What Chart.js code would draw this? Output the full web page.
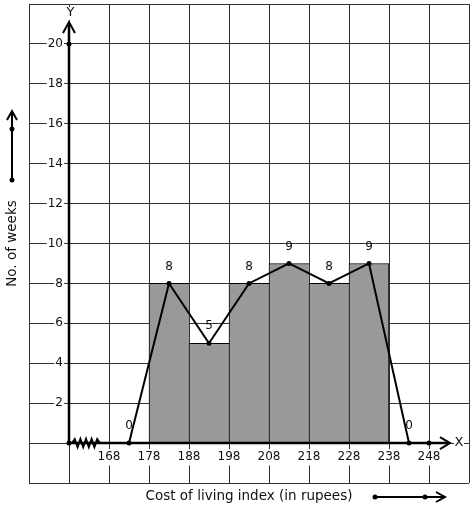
<!DOCTYPE html>
<html>
<head>
<meta charset="utf-8">
<script src="https://cdn.jsdelivr.net/npm/chart.js@4/dist/chart.umd.min.js"></script>
<style>
  html, body { margin: 0; padding: 0; background: #fff; }
</style>
</head>
<body>
<canvas id="chart" width="474" height="510"></canvas>
<script>
// histogram classes (mid points) and frequencies
const classMarks = [183, 193, 203, 213, 223, 233];
const weeks = [8, 5, 8, 9, 8, 9];

// frequency polygon
const polygonX = [173, 183, 193, 203, 213, 223, 233, 243];
const polygonY = [0, 8, 5, 8, 9, 8, 9, 0];

// loose dots on the axes
const markX = [158, 158, 248];
const markY = [0, 20, 0];

const xTickLabels = [168, 178, 188, 198, 208, 218, 228, 238, 248];
const yTickLabels = [2, 4, 6, 8, 10, 12, 14, 16, 18, 20];

const xMin = 148, xMax = 258, xOrigin = 158;
const yMin = -2, yMax = 22;

const FONT = 'DejaVu Sans';
const INK = '#111';

Chart.defaults.font.family = FONT;
Chart.defaults.color = INK;

function drawArrowHead(ctx, x, y, dx, dy, len, half) {
    // open chevron pointing in (dx, dy)
    const px = -dy, py = dx;
    ctx.beginPath();
    ctx.moveTo(x - dx * len + px * half, y - dy * len + py * half);
    ctx.lineTo(x, y);
    ctx.lineTo(x - dx * len - px * half, y - dy * len - py * half);
    ctx.stroke();
}

function dot(ctx, x, y, r) {
    ctx.beginPath();
    ctx.arc(x, y, r, 0, Math.PI * 2);
    ctx.fill();
}

// axes sit inside the plot, so they must not take any room in the layout
function noRoom(scale) {
    if (scale.isHorizontal()) scale.height = 0; else scale.width = 0;
    scale.paddingTop = 0;
    scale.paddingBottom = 0;
    scale.paddingLeft = 0;
    scale.paddingRight = 0;
}

// white box only behind the labels that are shown
function backdropFor(list) {
    return c => (c.tick && list.includes(c.tick.value)) ? '#fff' : 'rgba(0,0,0,0)';
}

const axesPlugin = {
    id: 'axesPlugin',
    afterDatasetDraw(chart, args) {
        if (args.meta.type !== 'bar') return;
        const ctx = chart.ctx;
        const xs = chart.scales.x, ys = chart.scales.y;
        const ox = xs.getPixelForValue(xOrigin);
        const oy = ys.getPixelForValue(0);
        const top = chart.chartArea.top;
        const right = chart.chartArea.right;

        ctx.save();
        ctx.strokeStyle = '#000';
        ctx.lineWidth = 2.5;
        ctx.lineCap = 'butt';

        // y axis + arrow
        ctx.beginPath();
        ctx.moveTo(ox, oy);
        ctx.lineTo(ox, top + 19);
        ctx.stroke();
        ctx.lineWidth = 2;
        drawArrowHead(ctx, ox, top + 18, 0, -1, 11, 6);

        // x axis + arrow
        ctx.lineWidth = 2.5;
        ctx.beginPath();
        ctx.moveTo(ox, oy);
        ctx.lineTo(right - 20, oy);
        ctx.stroke();
        ctx.lineWidth = 2;
        drawArrowHead(ctx, right - 19, oy, 1, 0, 10, 6);

        // axis break (zigzag)
        ctx.lineWidth = 2;
        ctx.beginPath();
        const zx0 = ox + 3, zx1 = ox + 31, n = 10;
        for (let i = 0; i <= n; i++) {
            const zx = zx0 + (zx1 - zx0) * i / n;
            const zy = oy + (i === 0 || i === n ? 0 : (i % 2 ? -4 : 4));
            if (i === 0) ctx.moveTo(zx, zy); else ctx.lineTo(zx, zy);
        }
        ctx.stroke();

        // axis letters, with white behind
        ctx.font = '13px ' + FONT;
        ctx.textAlign = 'center';
        ctx.textBaseline = 'middle';
        ctx.fillStyle = '#fff';
        ctx.fillRect(right - 15, oy - 7, 10, 14);
        ctx.fillRect(ox - 4, top + 3, 11, 13);
        ctx.fillStyle = INK;
        ctx.fillText('X', right - 10, oy);
        ctx.fillText('Y', ox + 1.5, top + 9);
        ctx.restore();
    },
    afterDatasetsDraw(chart) {
        const ctx = chart.ctx;
        const meta = chart.getDatasetMeta(1);
        ctx.save();
        ctx.font = '12px ' + FONT;
        ctx.fillStyle = INK;
        ctx.textAlign = 'center';
        ctx.textBaseline = 'middle';
        meta.data.forEach((pt, i) => {
            ctx.fillText(String(polygonY[i]), pt.x, pt.y - 17);
        });
        ctx.restore();
    },
    afterDraw(chart) {
        const ctx = chart.ctx;
        const area = chart.chartArea;
        ctx.save();
        ctx.fillStyle = INK;
        ctx.font = '13.5px ' + FONT;
        ctx.textBaseline = 'middle';
        ctx.textAlign = 'center';
        ctx.fillText('Cost of living index (in rupees)', (area.left + area.right) / 2, area.bottom + 13);

        ctx.translate(12, (area.top + area.bottom) / 2);
        ctx.rotate(-Math.PI / 2);
        ctx.fillText('No. of weeks', 0, 0);
        ctx.restore();

        // decorative arrows next to the titles
        ctx.save();
        ctx.strokeStyle = '#000';
        ctx.fillStyle = '#000';
        ctx.lineWidth = 2;
        ctx.beginPath();
        ctx.moveTo(12, 180);
        ctx.lineTo(12, 111);
        ctx.stroke();
        drawArrowHead(ctx, 12, 111, 0, -1, 9, 5);
        dot(ctx, 12, 180, 2.5);
        dot(ctx, 12, 129, 2.5);

        ctx.beginPath();
        ctx.moveTo(375, 497);
        ctx.lineTo(444, 497);
        ctx.stroke();
        drawArrowHead(ctx, 445, 497, 1, 0, 9, 5);
        dot(ctx, 375, 497, 2.5);
        dot(ctx, 425, 497, 2.5);
        ctx.restore();
    }
};

const bars = classMarks.map((x, i) => ({ x: x, y: weeks[i] }));
const polygon = polygonX.map((x, i) => ({ x: x, y: polygonY[i] }));
const marks = markX.map((x, i) => ({ x: x, y: markY[i] }));

new Chart(document.getElementById('chart'), {
    type: 'bar',
    data: {
        datasets: [{
            type: 'bar',
            data: bars,
            order: 2,
            backgroundColor: '#999999',
            borderColor: '#000',
            borderWidth: c => ({ top: 1, left: 1, bottom: 0, right: c.dataIndex === weeks.length - 1 ? 1 : 0 }),
            borderSkipped: false,
            barPercentage: 1,
            categoryPercentage: 1
        }, {
            type: 'line',
            data: polygon,
            order: 1,
            borderColor: '#000',
            borderWidth: 2,
            tension: 0,
            fill: false,
            pointRadius: 2.5,
            pointBackgroundColor: '#000',
            pointBorderWidth: 0
        }, {
            type: 'line',
            data: marks,
            order: 0,
            showLine: false,
            pointRadius: 2.5,
            pointBackgroundColor: '#000',
            pointBorderWidth: 0
        }]
    },
    options: {
        responsive: false,
        animation: false,
        layout: { padding: { left: 29, top: 3, right: 5, bottom: 27 } },
        plugins: { legend: { display: false }, tooltip: { enabled: false } },
        scales: {
            x: {
                type: 'linear',
                min: xMin,
                max: xMax,
                offset: false,
                position: { y: 0 },
                afterFit: noRoom,
                grid: { color: '#333', lineWidth: 1, drawTicks: false, offset: false },
                border: { display: false },
                ticks: {
                    stepSize: 10,
                    font: { size: 12 },
                    color: INK,
                    padding: 7,
                    maxRotation: 0,
                    autoSkip: false,
                    showLabelBackdrop: true,
                    backdropColor: backdropFor(xTickLabels),
                    backdropPadding: { x: 1, y: 1 },
                    callback: v => xTickLabels.includes(v) ? String(v) : ''
                }
            },
            y: {
                type: 'linear',
                min: yMin,
                max: yMax,
                // labels are right-aligned on this line, a little left of the y axis
                position: { x: xOrigin - 1.5 },
                afterFit: noRoom,
                grid: { color: '#333', lineWidth: 1, drawTicks: false },
                border: { display: false },
                ticks: {
                    stepSize: 2,
                    font: { size: 12 },
                    color: INK,
                    autoSkip: false,
                    showLabelBackdrop: true,
                    backdropColor: backdropFor(yTickLabels),
                    backdropPadding: { x: 1, y: 0 },
                    callback: v => yTickLabels.includes(v) ? String(v) : ''
                }
            }
        }
    },
    plugins: [axesPlugin]
});
</script>
</body>
</html>
